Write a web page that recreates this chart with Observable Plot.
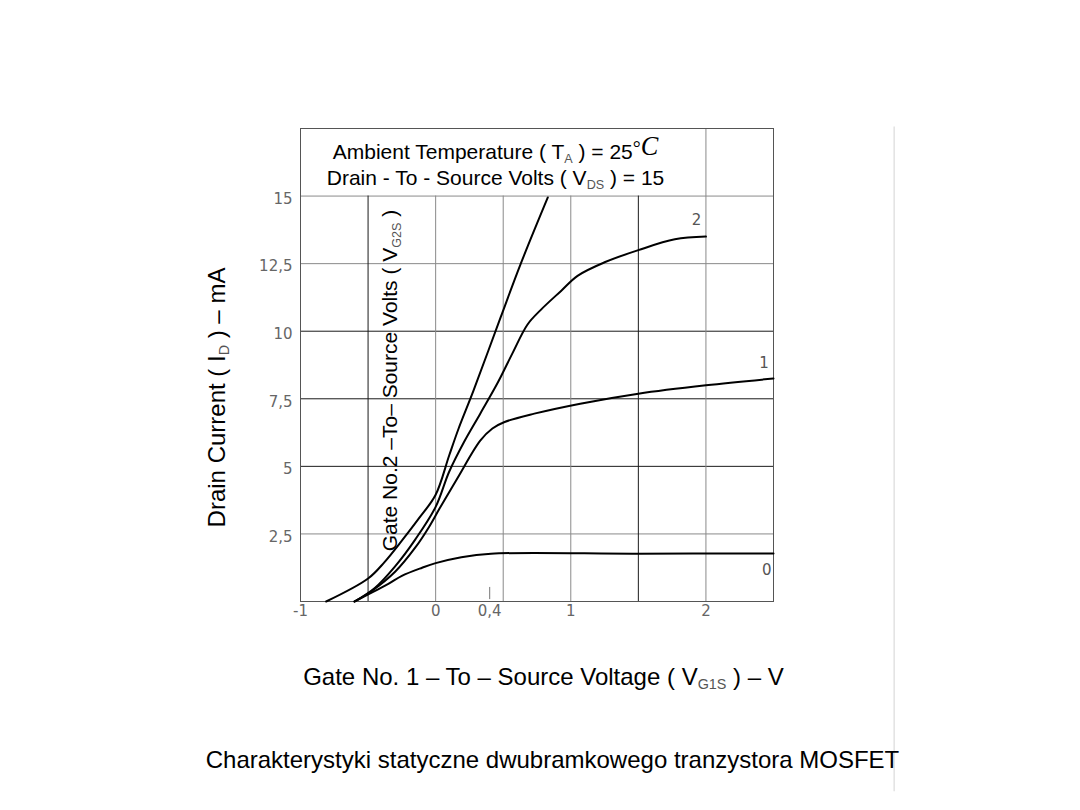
<!DOCTYPE html>
<html>
<head>
<meta charset="utf-8">
<script src="https://cdn.jsdelivr.net/npm/d3@7"></script>
<script src="https://cdn.jsdelivr.net/npm/@observablehq/plot@0.6"></script>
<style>
  html, body { margin: 0; padding: 0; background: #fff; }
  #chart { width: 1080px; height: 810px; }
</style>
</head>
<body>
<div id="chart"></div>
<script>
// ---- Data ----
// Steepest curve (highest V_G2S, unlabelled)
const curve3V = [-0.81, -0.5, -0.38, -0.25, -0.12, 0, 0.1, 0.17, 0.28, 0.48, 0.63, 0.83];
const curve3I = [0, 0.85, 1.45, 2.25, 3.1, 3.95, 5.4, 6.4, 7.8, 10.5, 12.5, 14.95];
// V_G2S = 2
const curve2V = [-0.6, -0.45, -0.3, -0.15, 0, 0.1, 0.21, 0.33, 0.46, 0.57, 0.68, 0.78, 0.93, 1.05, 1.25, 1.5, 1.77, 2.0];
const curve2I = [0, 0.5, 1.3, 2.3, 3.5, 4.8, 5.9, 6.95, 8.1, 9.2, 10.25, 10.8, 11.5, 12.05, 12.55, 13.0, 13.4, 13.5];
// V_G2S = 1
const curve1V = [-0.6, -0.47, -0.3, -0.15, -0.05, 0.03, 0.16, 0.33, 0.42, 0.51, 0.73, 1.07, 1.5, 2.0, 2.5];
const curve1I = [0, 0.4, 1.1, 2.0, 2.75, 3.45, 4.55, 5.95, 6.4, 6.64, 6.95, 7.32, 7.69, 8.0, 8.25];
// V_G2S = 0
const curve0V = [-0.6, -0.47, -0.35, -0.25, -0.1, 0, 0.19, 0.41, 1.5, 2.5];
const curve0I = [0, 0.34, 0.65, 0.95, 1.25, 1.42, 1.64, 1.77, 1.77, 1.78];

const curveNames = ["3", "2", "1", "0"];
const xTicks = [-1, 0, 0.4, 1, 2];
const yTicks = [2.5, 5, 7.5, 10, 12.5, 15];
const gridXDark = [-0.5, 1.5];
const gridXLight = [0, 0.5, 1];
const gridYDark = [5, 7.5, 10];
const gridYLight = [2.5, 12.5, 15];
const curveLabels = ["2", "1", "0"];
const curveLabelV = [1.93, 2.43, 2.45];
const curveLabelI = [14.1, 8.8, 1.15];

const titleLine1 = "Ambient Temperature ( T_{A} ) = 25^{°C}";
const titleLine2 = "Drain - To - Source Volts ( V_{DS} ) = 15";
const gate2Label = "Gate No.2 –To– Source Volts ( V_{G2S} )";
const yLabel = "Drain Current ( I_{D} ) – mA";
const xLabel = "Gate No. 1 – To – Source Voltage ( V_{G1S} ) – V";
const caption = "Charakterystyki statyczne dwubramkowego tranzystora MOSFET";

// ---- Build table ----
const series = [
  {name: curveNames[0], v: curve3V, i: curve3I},
  {name: curveNames[1], v: curve2V, i: curve2I},
  {name: curveNames[2], v: curve1V, i: curve1I},
  {name: curveNames[3], v: curve0V, i: curve0I}
];
const rows = series.flatMap(s => s.v.map((v, k) => ({curve: s.name, v, i: s.i[k]})));
const labelRows = curveLabels.map((t, k) => ({t, v: curveLabelV[k], i: curveLabelI[k]}));
const fmt = d => String(d).replace(".", ",");

const font = "'Liberation Sans', Arial, Helvetica, sans-serif";
const tickFont = "'DejaVu Sans', 'Liberation Sans', sans-serif";

const chart = Plot.plot({
  width: 1080,
  height: 810,
  marginLeft: 300,
  marginRight: 307,
  marginTop: 128,
  marginBottom: 209,
  x: {domain: [-1, 2.5], label: null},
  y: {domain: [0, 17.5], label: null},
  style: {fontFamily: font, background: "#fff", color: "#000", overflow: "visible"},
  marks: [
    // faint slide separator line at right
    Plot.ruleX([3.393], {y1: () => 17.56, y2: () => -7.04, stroke: "#e2e2e2", strokeWidth: 1.5}),
    // grid
    Plot.ruleY(gridYLight, {stroke: "#8a8a8a"}),
    Plot.ruleY(gridYDark, {stroke: "#1a1a1a"}),
    Plot.ruleX(gridXLight, {y1: () => 0, y2: () => 15, stroke: "#8a8a8a"}),
    Plot.ruleX(gridXDark, {y1: () => 0, y2: () => 15, stroke: "#1a1a1a"}),
    Plot.ruleX([2], {stroke: "#8a8a8a"}),
    Plot.frame({stroke: "#555"}),
    Plot.ruleX([0.4], {y1: () => 0.07, y2: () => 0.52, stroke: "#777"}),
    // curves
    Plot.line(rows, {x: "v", y: "i", z: "curve", stroke: "#000", strokeWidth: 2, curve: "catmull-rom"}),
    // curve labels
    Plot.text(labelRows, {x: "v", y: "i", text: "t", fontSize: 15, fill: "#555", fontFamily: tickFont}),
    // axes
    Plot.axisY({ticks: yTicks, tickSize: 0, tickPadding: 8, tickFormat: fmt, fontSize: 15, fill: "#666", fontFamily: tickFont, dy: 3, label: null}),
    Plot.axisX({ticks: xTicks, tickSize: 0, tickPadding: 4, tickFormat: fmt, fontSize: 15, fill: "#666", fontFamily: tickFont, label: null}),
    // titles & labels
    Plot.text([titleLine1], {frameAnchor: "top-left", dx: 195, dy: 24, textAnchor: "middle", lineAnchor: "middle", fontSize: 21, fill: "#000"}),
    Plot.text([titleLine2], {frameAnchor: "top-left", dx: 195, dy: 50, textAnchor: "middle", lineAnchor: "middle", fontSize: 21, fill: "#000"}),
    Plot.text([gate2Label], {frameAnchor: "top-left", dx: 90, dy: 252, rotate: -90, textAnchor: "middle", lineAnchor: "middle", fontSize: 21, fill: "#000"}),
    Plot.text([yLabel], {frameAnchor: "top-left", dx: -83, dy: 269, rotate: -90, textAnchor: "middle", lineAnchor: "middle", fontSize: 24, fill: "#000"}),
    Plot.text([xLabel], {frameAnchor: "top-left", dx: 243, dy: 549, textAnchor: "middle", lineAnchor: "middle", fontSize: 24, fill: "#000"}),
    Plot.text([caption], {frameAnchor: "top-left", dx: 252, dy: 632, textAnchor: "middle", lineAnchor: "middle", fontSize: 24, fill: "#000"})
  ]
});

document.getElementById("chart").appendChild(chart);

// ---- Rich text: subscripts and the serif °C ----
const NS = "http://www.w3.org/2000/svg";
d3.select(chart).selectAll("text").each(function() {
  const el = this;
  const s = el.textContent;
  if (!/[_^]\{/.test(s)) return;
  const fs = parseFloat(getComputedStyle(el).fontSize) || 16;
  el.textContent = "";
  const parts = s.split(/([_^]\{[^}]*\})/);
  let shifted = 0;
  for (const p of parts) {
    if (!p) continue;
    if (p.startsWith("_{")) {
      const t = document.createElementNS(NS, "tspan");
      t.textContent = p.slice(2, -1);
      t.setAttribute("font-size", (fs * 0.6).toFixed(1));
      t.setAttribute("fill", "#555");
      t.setAttribute("dy", (fs * 0.16 - shifted).toFixed(1));
      shifted = fs * 0.16;
      el.appendChild(t);
    } else if (p.startsWith("^{")) {
      const inner = p.slice(2, -1);
      const deg = document.createElementNS(NS, "tspan");
      deg.textContent = inner.slice(0, 1);
      deg.setAttribute("font-family", "'Liberation Serif', 'Times New Roman', serif");
      deg.setAttribute("font-size", (fs * 0.95).toFixed(1));
      deg.setAttribute("dy", (-fs * 0.2 - shifted).toFixed(1));
      shifted = -fs * 0.2;
      el.appendChild(deg);
      const c = document.createElementNS(NS, "tspan");
      c.textContent = inner.slice(1);
      c.setAttribute("font-family", "'Liberation Serif', 'Times New Roman', serif");
      c.setAttribute("font-style", "italic");
      c.setAttribute("font-size", (fs * 1.25).toFixed(1));
      el.appendChild(c);
    } else {
      const t = document.createElementNS(NS, "tspan");
      t.textContent = p;
      if (shifted) t.setAttribute("dy", (-shifted).toFixed(1));
      shifted = 0;
      el.appendChild(t);
    }
  }
});
</script>
</body>
</html>
